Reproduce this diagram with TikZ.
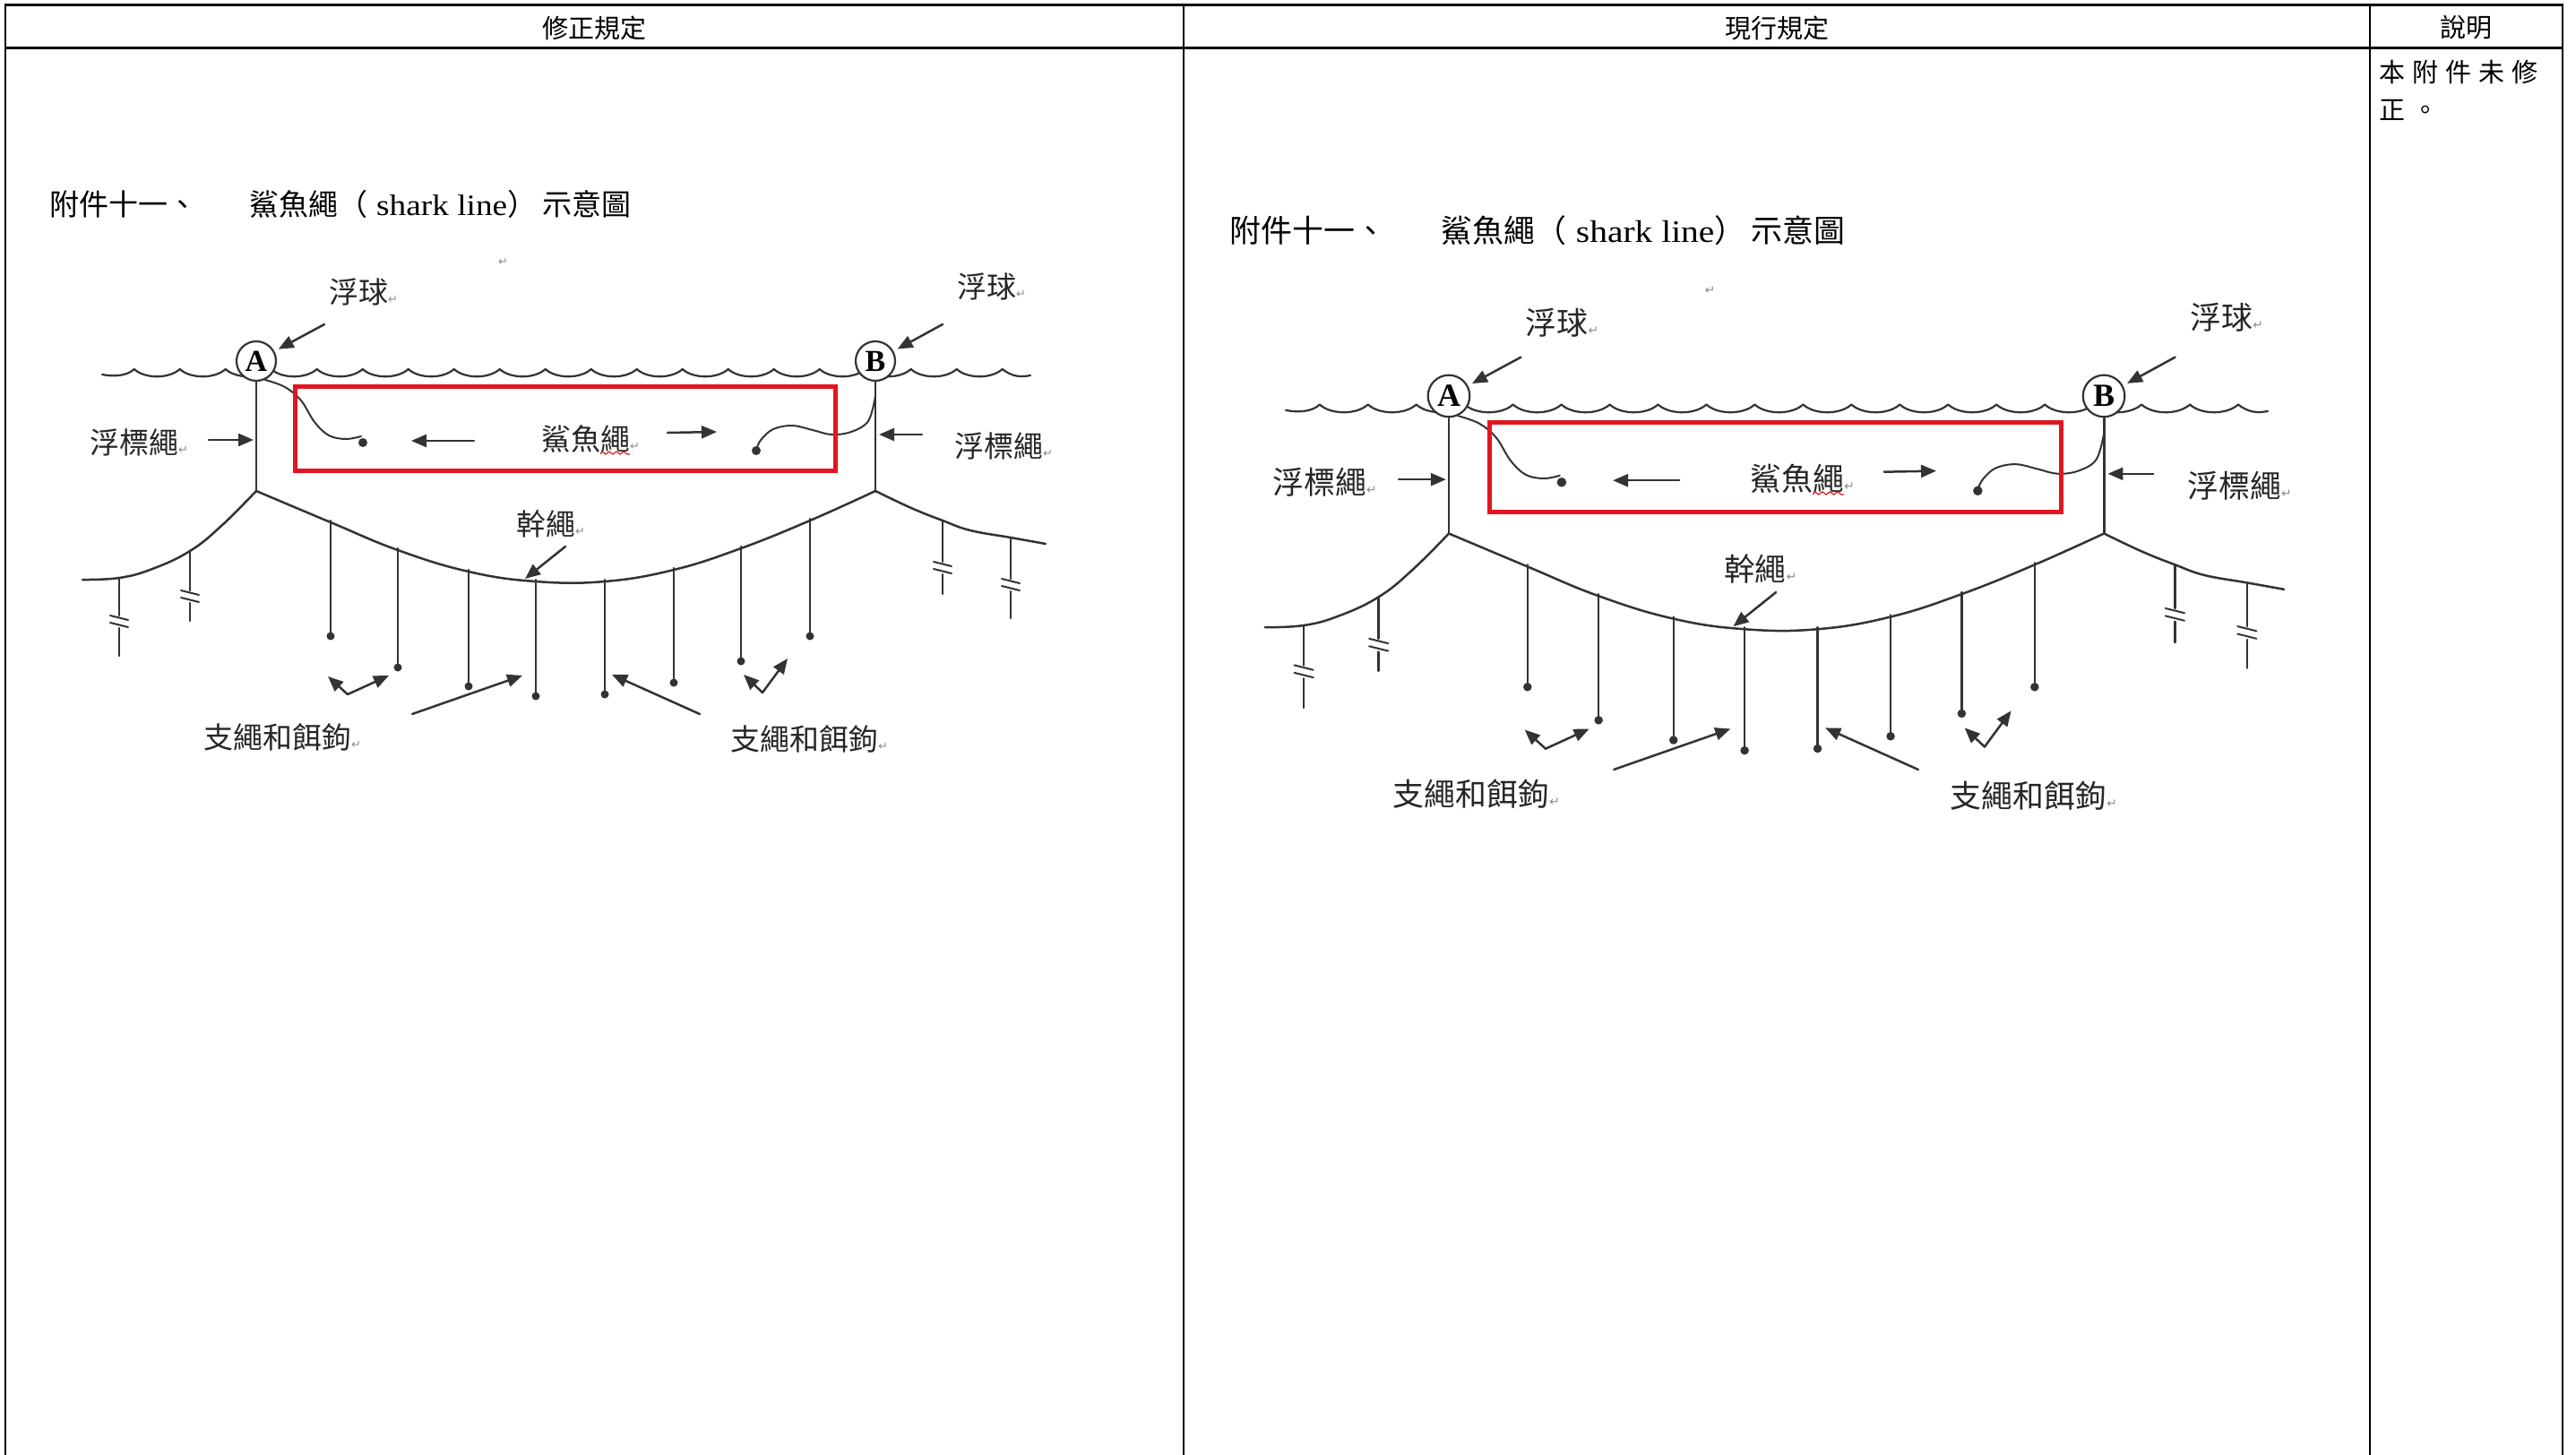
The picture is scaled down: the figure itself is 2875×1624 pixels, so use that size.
\documentclass[tikz,border=0pt]{standalone}
\usepackage{fontspec}
\setmainfont{Liberation Serif}
\newfontfamily\cjk{Noto Sans CJK TC}
\newfontfamily\symfnt{DejaVu Sans}
\usetikzlibrary{arrows.meta}
\definecolor{boxred}{RGB}{226,22,32}
\newcommand\retmark{{\symfnt\fontsize{13pt}{13pt}\selectfont\textcolor{black!45}{↵}}}
\tikzset{
  fig/.style={draw=black!80, line width=2.5pt, line join=round, line cap=round},
  arr/.style={fig, -{Triangle[length=17pt,width=14pt]}},
  lbl/.style={font=\cjk\fontsize{33pt}{36pt}\selectfont, text=black!85, inner sep=0pt, anchor=west},
  buoy/.style={circle, draw=black!80, line width=2.2pt, fill=white, minimum size=44pt, inner sep=0pt, font=\bfseries\fontsize{34pt}{34pt}\selectfont},
  redbox/.style={draw=boxred, line width=5pt, minimum width=603pt, minimum height=94pt, inner sep=0pt},
  hookdot/.style={fill=black!80},
  hdr/.style={font=\cjk\fontsize{29pt}{32pt}\selectfont, inner sep=0pt},
  tblline/.style={draw=black, line width=2pt},
  tblthick/.style={draw=black, line width=3pt},
}
\newcommand\sharkfig{%
  \node[lbl, font=\cjk\fontsize{33pt}{38pt}\selectfont, text=black] (title) at (55,228)
    {附件十一、\hspace{58pt}鯊魚繩（\hspace{10pt}{\rmfamily\scalebox{1.13}[1]{shark line}}）\hspace{6pt}示意圖};
  \node[lbl] (pf1) at (367,326) {浮球\retmark};
  \node[lbl] (pf2) at (1068,320) {浮球\retmark};
  \node[lbl, font=\symfnt\fontsize{13pt}{13pt}\selectfont, text=black!45] (ret) at (556,292) {↵};
  % water surface
  \draw[fig, line width=2.2pt] (114,418) .. controls (128,421) and (143,419) .. (149.7,412)
    \foreach \kk in {0,...,18} { .. controls ({161.7+51*\kk},423) and ({188.7+51*\kk},423) .. ({200.7+51*\kk},412) }
    .. controls (1130,421) and (1140,421) .. (1150,419);
  % buoys
  \node[buoy] (A) at (286,403) {A};
  \node[buoy] (B) at (977,403) {B};
  \coordinate (pA) at (362,362);
  \coordinate (pB) at (1052,362);
  \draw[arr, shorten >=5pt] (pA) -- (A);
  \draw[arr, shorten >=5pt] (pB) -- (B);
  % float lines
  \coordinate (jA) at (286,548);
  \coordinate (jB) at (977,548);
  \draw[fig] (A.south) -- (jA);
  \draw[fig] (B.south) -- (jB);
  % shark lines
  \draw[fig, line width=2pt] plot[smooth, tension=0.6] coordinates {(A.-65) (318,432) (336,447) (351,471) (367,486) (386,490) (403,487)};
  \fill[hookdot] (405,494) circle (5pt);
  \coordinate (sB) at (977,442);
  \draw[fig, line width=2pt] plot[smooth, tension=0.6] coordinates {(sB) (969,470) (950,482) (928,485) (907,480) (884,475) (863,479) (850,490) (845,499)};
  \fill[hookdot] (844,503) circle (5pt);
  \node[redbox] (box) at (630.5,478) {};
  % float line labels
  \node[lbl] (fbL) at (100,494) {浮標繩\retmark};
  \node[lbl] (fbR) at (1065,498) {浮標繩\retmark};
  \coordinate (aL1) at (233,491); \coordinate (aL2) at (283,491);
  \coordinate (aR1) at (1029,485); \coordinate (aR2) at (981,485);
  \draw[arr] (aL1) -- (aL2);
  \draw[arr] (aR1) -- (aR2);
  % shark line label
  \node[lbl] (sk) at (604,490) {鯊魚繩\retmark};
  \draw[boxred, line width=1.2pt] (670,507) \foreach \kk in {0,...,7} { -- ({672+4*\kk},{504+3*mod(\kk,2)}) } -- (703,507);
  \coordinate (kL1) at (529,492); \coordinate (kL2) at (459,492);
  \coordinate (kR1) at (745,483); \coordinate (kR2) at (800,482);
  \draw[arr] (kL1) -- (kL2);
  \draw[arr] (kR1) -- (kR2);
  % main line and outer lines
  \draw[fig] plot[smooth, tension=0.7] coordinates {(jA) (369,583) (444,614) (523,638) (598,649) (675,649) (752,636) (827,612) (904,581) (jB)};
  \draw[fig] plot[smooth, tension=0.7] coordinates {(jA) (247,587) (212,615) (170,635) (133,645) (92,647)};
  \draw[fig] plot[smooth, tension=0.7] coordinates {(jB) (1017,567) (1052,581) (1083,592) (1128,600) (1167,607)};
  % branch lines with hooks
  \foreach \xa/\ya/\yb in {369/583/710, 444/614/745, 523/638/766, 598/649/777, 675/649/775, 752/636/762, 827/612/738, 904/581/710} {
    \draw[fig] (\xa,\ya-2) -- (\xa,\yb);
    \fill[hookdot] (\xa,\yb) circle (4.5pt);
  }
  % broken branch lines
  \foreach \xa/\ya/\ym/\yb in {212/615/666/693, 133/645/694/732, 1052/581/634/663, 1128/600/653/690} {
    \draw[fig] (\xa,\ya) -- (\xa,\ym-7);
    \draw[fig] (\xa,\ym+7) -- (\xa,\yb);
    \draw[fig, line width=2pt] (\xa-10,\ym-7) -- (\xa+10,\ym-2);
    \draw[fig, line width=2pt] (\xa-10,\ym+1) -- (\xa+10,\ym+6);
  }
  % hook pointers
  \coordinate (vL) at (388,775);
  \coordinate (vR) at (851,773);
  \coordinate (vL1) at (366,755); \coordinate (vL2) at (434,754);
  \coordinate (vR1) at (830,753); \coordinate (vR2) at (879,735);
  \draw[arr] (vL) -- (vL1);
  \draw[arr] (vL) -- (vL2);
  \draw[arr] (vR) -- (vR1);
  \draw[arr] (vR) -- (vR2);
  \coordinate (lL1) at (460,797); \coordinate (lL2) at (583,754);
  \coordinate (lR1) at (781,797); \coordinate (lR2) at (683,753);
  \draw[arr] (lL1) -- (lL2);
  \draw[arr] (lR1) -- (lR2);
  \node[lbl] (zsL) at (227,823) {支繩和餌鉤\retmark};
  \node[lbl] (zsR) at (815,825) {支繩和餌鉤\retmark};
  % trunk line label
  \node[lbl] (gs) at (576,585) {幹繩\retmark};
  \coordinate (g1) at (631,610); \coordinate (g2) at (586,646);
  \draw[arr] (g1) -- (g2);
}
\begin{document}
\begin{tikzpicture}[x=1pt, y=-1pt]
  \useasboundingbox (0,0) rectangle (2875,1624);
  \fill[white] (0,0) rectangle (2875,1624);
  % table
  \draw[tblthick] (5,6) -- (2861,6);
  \draw[tblthick] (5,54) -- (2861,54);
  \draw[tblline] (6,5) -- (6,1624);
  \draw[tblline] (1321,5) -- (1321,1624);
  \draw[tblline] (2645,5) -- (2645,1624);
  \draw[tblline] (2860,5) -- (2860,1624);
  \node[hdr] (h1) at (663,31) {修正規定};
  \node[hdr] (h2) at (1983,31) {現行規定};
  \node[hdr] (h3) at (2752,31) {說明};
  \node[hdr, anchor=west] (n1) at (2655,80) {本\hspace{8pt}附\hspace{8pt}件\hspace{8pt}未\hspace{8pt}修};
  \node[hdr, anchor=west] (n2) at (2655,123) {正\hspace{8pt}。};
  % figures
  \begin{scope}[name prefix=L-]
    \sharkfig
  \end{scope}
  \begin{scope}[shift={(1314.4,15.6)}, scale=1.058, transform shape, name prefix=R-]
    \sharkfig
  \end{scope}
\end{tikzpicture}
\end{document}
